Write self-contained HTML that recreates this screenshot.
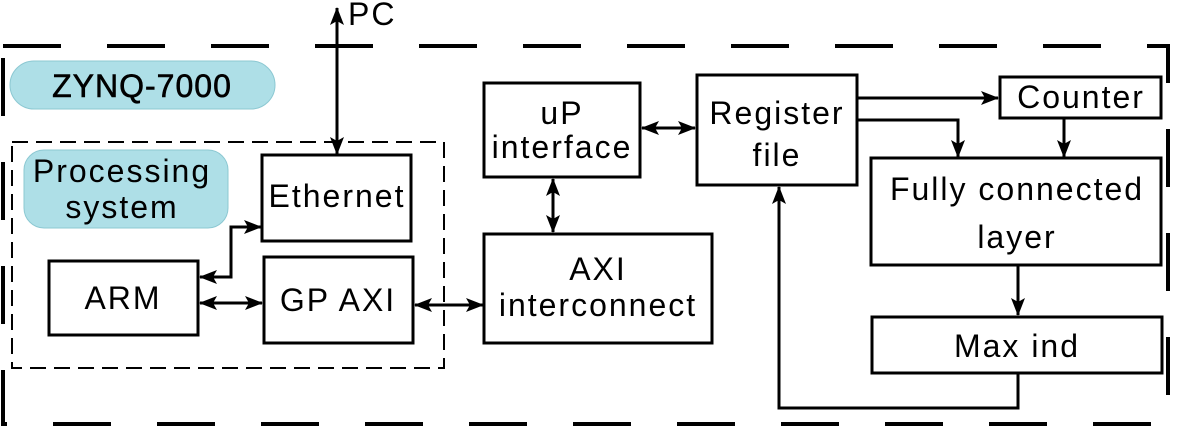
<!DOCTYPE html>
<html><head><meta charset="utf-8"><style>
html,body{margin:0;padding:0;background:#fff;}
svg{display:block;}
text{font-family:"Liberation Sans",sans-serif;fill:#000;letter-spacing:2px;}
</style></head><body>
<svg width="1182" height="427" viewBox="0 0 1182 427" xmlns="http://www.w3.org/2000/svg">
<defs>
<marker id="a" viewBox="0 0 18 14" refX="17" refY="7" markerWidth="18" markerHeight="14" markerUnits="userSpaceOnUse" orient="auto-start-reverse">
<path d="M0,0 L18,7 L0,14 L4,7 Z" fill="#000"/></marker>
</defs>
<rect x="3" y="46" width="1165" height="378" fill="none" stroke="#000" stroke-width="4" stroke-dasharray="58 46"/>
<rect x="10" y="61" width="265" height="48" rx="24" fill="#aedfe7" stroke="#8cc8d2" stroke-width="1"/>
<text x="142" y="97" font-size="32" text-anchor="middle" style="letter-spacing:1px" stroke="#000" stroke-width="0.6">ZYNQ-7000</text>
<rect x="12" y="142" width="432" height="226" fill="none" stroke="#000" stroke-width="2" stroke-dasharray="16 8"/>
<rect x="24" y="150" width="204" height="78" rx="20" fill="#aedfe7" stroke="#8cc8d2" stroke-width="1"/>
<text x="122" y="182" font-size="32" text-anchor="middle">Processing</text>
<text x="122" y="218" font-size="32" text-anchor="middle">system</text>
<g fill="none" stroke="#000" stroke-width="3">
<rect x="262" y="155" width="149" height="86"/>
<rect x="49" y="261" width="149" height="74"/>
<rect x="264" y="257" width="149" height="86"/>
<rect x="484" y="234" width="228" height="109"/>
<rect x="484" y="83" width="156" height="94"/>
<rect x="697" y="75" width="160" height="110"/>
<rect x="1000" y="77" width="161" height="41"/>
<rect x="871" y="158" width="290" height="107"/>
<rect x="872" y="317" width="290" height="56"/>
</g>
<g font-size="32" text-anchor="middle">
<text x="337" y="207">Ethernet</text>
<text x="123" y="309">ARM</text>
<text x="338" y="311">GP AXI</text>
<text x="598" y="280">AXI</text>
<text x="598" y="316">interconnect</text>
<text x="562" y="124">uP</text>
<text x="562" y="158">interface</text>
<text x="777" y="124">Register</text>
<text x="777" y="166">file</text>
<text x="1081" y="108">Counter</text>
<text x="1017" y="200">Fully connected</text>
<text x="1017" y="248">layer</text>
<text x="1017" y="357">Max ind</text>
<text x="348" y="25" text-anchor="start">PC</text>
</g>
<g fill="none" stroke="#000" stroke-width="3">
<path d="M337 8 L337 154" marker-start="url(#a)" marker-end="url(#a)"/>
<path d="M200 277 L231 277 L231 227 L261 227" marker-start="url(#a)" marker-end="url(#a)"/>
<path d="M200 303 L262 303" marker-start="url(#a)" marker-end="url(#a)"/>
<path d="M415 305 L483 305" marker-start="url(#a)" marker-end="url(#a)"/>
<path d="M553 179 L553 232" marker-start="url(#a)" marker-end="url(#a)"/>
<path d="M642 128 L695 128" marker-start="url(#a)" marker-end="url(#a)"/>
<path d="M858 98 L998 98" marker-end="url(#a)"/>
<path d="M858 120 L958 120 L958 157" marker-end="url(#a)"/>
<path d="M1064 119 L1064 157" marker-end="url(#a)"/>
<path d="M1018 266 L1018 315" marker-end="url(#a)"/>
<path d="M1018 374 L1018 408 L779 408 L779 187" marker-end="url(#a)"/>
</g>
</svg>
</body></html>
